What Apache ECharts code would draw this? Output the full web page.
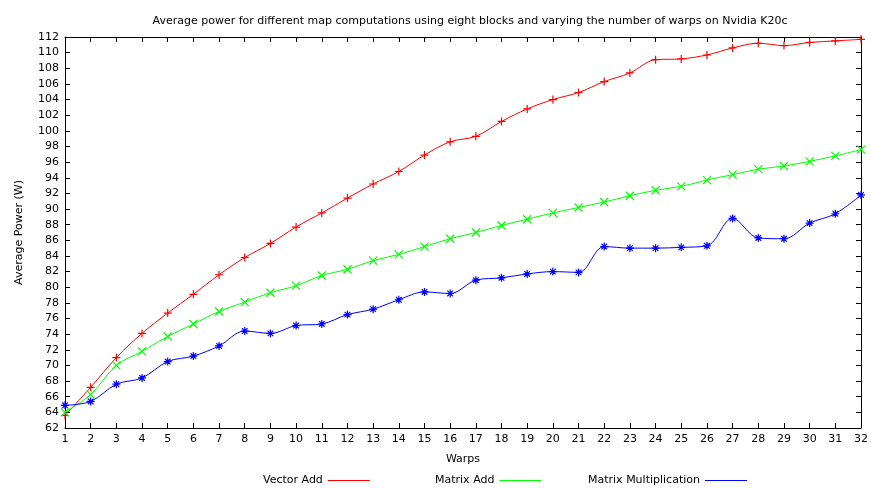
<!DOCTYPE html>
<html>
<head>
<meta charset="utf-8">
<script src="https://cdn.jsdelivr.net/npm/echarts@6/dist/echarts.min.js"></script>
<style>
  html, body { margin: 0; padding: 0; background: #fff; }
  #container { width: 871px; height: 488px; }
</style>
</head>
<body>
<div id="container"></div>
<script>
// data
var warps = [];
for (var w = 1; w <= 32; w++) warps.push(w);

var vectorAdd = [63.6, 67.2, 71.0, 74.1, 76.7, 79.1, 81.6, 83.8, 85.6, 87.7,
  89.5, 91.4, 93.2, 94.8, 96.9, 98.6, 99.3, 101.2, 102.8, 104.0,
  104.9, 106.3, 107.4, 109.1, 109.2, 109.7, 110.6, 111.2, 110.9, 111.3,
  111.5, 111.7];
var matrixAdd = [64.0, 66.3, 70.0, 71.8, 73.7, 75.3, 76.9, 78.1, 79.3, 80.2,
  81.5, 82.3, 83.4, 84.2, 85.2, 86.2, 87.0, 87.9, 88.7, 89.5,
  90.2, 90.9, 91.7, 92.4, 92.9, 93.7, 94.4, 95.1, 95.5, 96.1,
  96.8, 97.6];
var matrixMul = [64.9, 65.4, 67.6, 68.4, 70.5, 71.2, 72.5, 74.4, 74.1, 75.1,
  75.3, 76.5, 77.2, 78.4, 79.4, 79.2, 80.9, 81.2, 81.7, 82.0,
  81.9, 85.2, 85.0, 85.0, 85.1, 85.3, 88.8, 86.3, 86.2, 88.2,
  89.4, 91.8];

var names = ['Vector Add', 'Matrix Add', 'Matrix Multiplication'];
var colors = ['#ff0000', '#00ff00', '#0000ff'];
var symbols = [
  'path://M0,5 L10,5 M5,0 L5,10',
  'path://M0,0 L10,10 M0,10 L10,0',
  'path://M0,5 L10,5 M5,0 L5,10 M1.5,1.5 L8.5,8.5 M1.5,8.5 L8.5,1.5'
];
var values = [vectorAdd, matrixAdd, matrixMul];

function pairs(arr) {
  return warps.map(function (x, i) { return [x, arr[i]]; });
}

var font = 'DejaVu Sans';
var dom = document.getElementById('container');
var myChart = echarts.init(dom, null, { renderer: 'canvas' });

var axisBase = {
  axisLine: { show: true, onZero: false, lineStyle: { color: '#000', width: 1 } },
  axisTick: { show: true, inside: true, length: 5, lineStyle: { color: '#000' } },
  splitLine: { show: false }
};

var series = names.map(function (n, i) {
  return {
    name: n,
    type: 'line',
    data: pairs(values[i]),
    smooth: 0.35,
    symbol: symbols[i],
    symbolSize: 8,
    showAllSymbol: true,
    lineStyle: { color: colors[i], width: 1 },
    itemStyle: { color: colors[i], borderColor: colors[i], borderWidth: 1.2 },
    emphasis: { disabled: true }
  };
});

// gnuplot style key: text first, line sample after it
var legendPos = [263, 435, 588];
var legends = names.map(function (n, i) {
  return {
    data: [n],
    left: legendPos[i],
    top: 475,
    padding: 0,
    align: 'right',
    itemWidth: 42,
    itemHeight: 10,
    itemStyle: { opacity: 0 },
    lineStyle: { color: colors[i], width: 1 },
    selectedMode: false,
    textStyle: { fontFamily: font, fontSize: 11, color: '#000' }
  };
});

var option = {
  animation: false,
  backgroundColor: '#fff',
  title: {
    text: 'Average power for different map computations using eight blocks and varying the number of warps on Nvidia K20c',
    left: 465,
    textAlign: 'center',
    top: 11,
    textStyle: { fontFamily: font, fontSize: 11, fontWeight: 'normal', color: '#000' }
  },
  legend: legends,
  grid: { left: 65, right: 6, top: 37, bottom: 60 },
  xAxis: [
    Object.assign({}, axisBase, {
      type: 'value', min: 1, max: 32, interval: 1,
      name: 'Warps', nameLocation: 'middle', nameGap: 26,
      nameTextStyle: { fontFamily: font, fontSize: 11, color: '#000' },
      axisLabel: { fontFamily: font, fontSize: 11, color: '#000', margin: 6 }
    }),
    Object.assign({}, axisBase, {
      type: 'value', min: 1, max: 32, interval: 1, position: 'top',
      axisLabel: { show: false }
    })
  ],
  yAxis: [
    Object.assign({}, axisBase, {
      type: 'value', min: 62, max: 112, interval: 2,
      name: 'Average Power (W)', nameLocation: 'middle', nameGap: 40,
      nameTextStyle: { fontFamily: font, fontSize: 11, color: '#000' },
      axisLabel: { fontFamily: font, fontSize: 11, color: '#000', margin: 6 }
    }),
    Object.assign({}, axisBase, {
      type: 'value', min: 62, max: 112, interval: 2, position: 'right',
      axisLabel: { show: false }
    })
  ],
  series: series
};

myChart.setOption(option);
window.addEventListener('resize', myChart.resize);
</script>
</body>
</html>
